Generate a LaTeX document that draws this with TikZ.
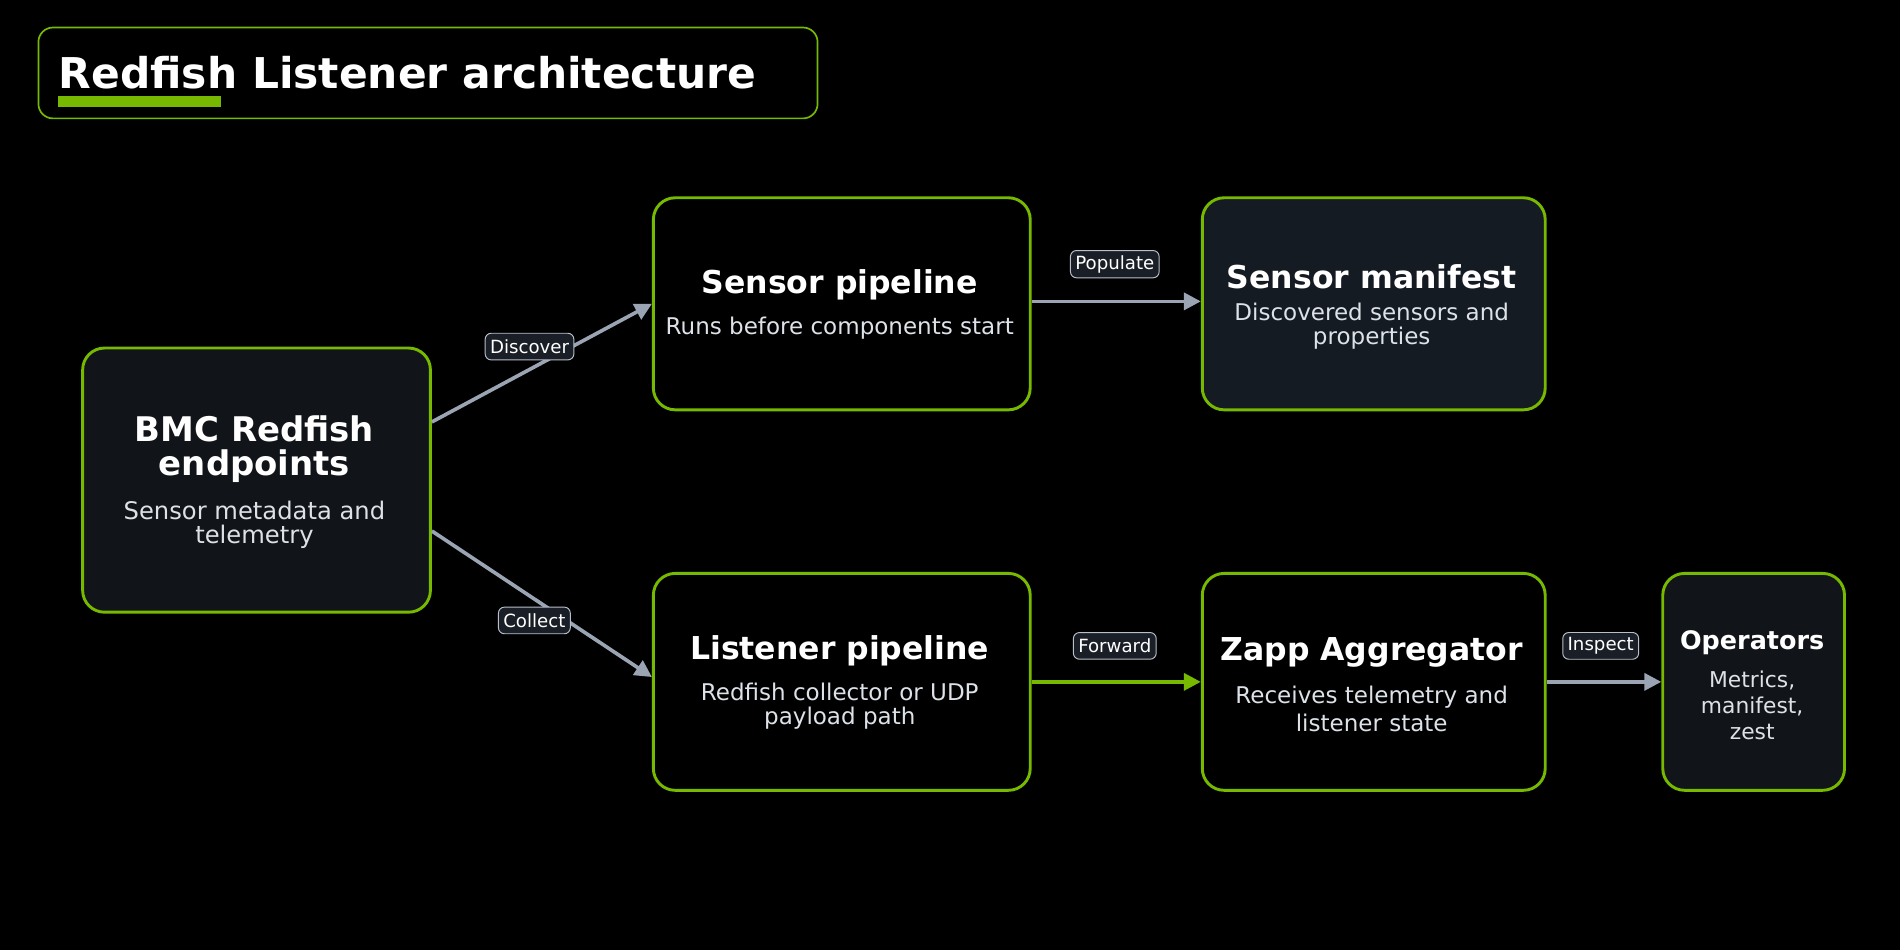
\documentclass[tikz,border=0pt]{standalone}
\usepackage{fontspec}
\setmainfont{DejaVu Sans}
\usetikzlibrary{arrows.meta}
\definecolor{grn}{HTML}{76B900}
\definecolor{dk}{HTML}{111418}
\definecolor{dk2}{HTML}{151B22}
\definecolor{edg}{HTML}{9AA4B2}
\definecolor{sub}{HTML}{DDE2E8}
\definecolor{lblf}{HTML}{1A1F27}
\tikzset{
 box/.style={draw=grn,line width=1.2pt,rounded corners=9pt,anchor=north west,inner sep=0pt},
 ttl/.style={text=white,font=\bfseries\fontsize{13}{14}\selectfont,align=center},
 st/.style={text=sub,font=\fontsize{9.5}{9.8}\selectfont,align=center},
 conn/.style={draw=edg,line width=1.5pt,-{Triangle[length=7pt,width=7pt]}},
 lbl/.style={fill=lblf,draw=edg!70,line width=0.4pt,rounded corners=2.5pt,text=white,font=\fontsize{7.5}{8}\selectfont,inner sep=2pt,minimum height=11pt},
}
\begin{document}
\begin{tikzpicture}[x=0.5pt,y=-0.5pt]
\fill[black] (0,0) rectangle (1568,784);
\useasboundingbox (0,0) rectangle (1568,784);
% title
\node[draw=grn,line width=0.7pt,rounded corners=6pt,anchor=north west,minimum width=321.5pt,minimum height=37.5pt] (tbox) at (31,22) {};
\node[anchor=base west,text=white,font=\bfseries\fontsize{17.5}{18}\selectfont,inner sep=0pt] (ttext) at (48,73) {Redfish Listener architecture};
\fill[grn] (48,79) rectangle (182,88);
% boxes
\node[box,fill=dk,minimum width=143.5pt,minimum height=109pt] (bmc) at (67,286) {};
\node[box,fill=black,minimum width=155.5pt,minimum height=87.5pt] (sp) at (538,162) {};
\node[box,fill=dk2,minimum width=141.5pt,minimum height=87.5pt] (sm) at (991,162) {};
\node[box,fill=black,minimum width=155.5pt,minimum height=89.5pt] (lp) at (538,472) {};
\node[box,fill=black,minimum width=141.5pt,minimum height=89.5pt] (za) at (991,472) {};
\node[box,fill=dk,minimum width=75pt,minimum height=89.5pt] (op) at (1371,472) {};
% texts
\node[ttl,font=\bfseries\fontsize{14}{14}\selectfont] (bmct) at (210,371) {BMC Redfish\\endpoints};
\node[st,font=\fontsize{10}{10}\selectfont] (bmcs) at (210,433) {Sensor metadata and\\telemetry};
\node[ttl] (spt) at (693,235) {Sensor pipeline};
\node[st] (sps) at (693,271) {Runs before components start};
\node[ttl] (smt) at (1132,228) {Sensor manifest};
\node[st] (sms) at (1132,269) {Discovered sensors and\\properties};
\node[ttl] (lpt) at (693,537) {Listener pipeline};
\node[st] (lps) at (693,583) {Redfish collector or UDP\\payload path};
\node[ttl] (zat) at (1132,538) {Zapp Aggregator};
\node[st,font=\fontsize{9.5}{11.5}\selectfont] (zas) at (1132,585) {Receives telemetry and\\listener state};
\node[ttl,font=\bfseries\fontsize{10.5}{11}\selectfont] (opt) at (1446,530) {Operators};
\node[st,font=\fontsize{9}{10.7}\selectfont] (ops) at (1446,582) {Metrics,\\manifest,\\zest};
% connectors
\draw[conn] ([yshift=24pt]bmc.east) -- (sp.west);
\draw[conn] ([yshift=-21pt]bmc.east) -- ([yshift=2pt]lp.west);
\draw[conn] ([yshift=1pt]sp.east) -- ([yshift=1pt]sm.west);
\draw[conn,draw=grn,-{Triangle[length=7pt,width=7pt,fill=grn]}] (lp.east) -- (za.west);
\draw[conn] (za.east) -- (op.west);
\node[lbl] (l1) at (437,286) {Discover};
\node[lbl] (l2) at (441,512) {Collect};
\node[lbl] (l3) at (920,218) {Populate};
\node[lbl] (l4) at (920,533) {Forward};
\node[lbl] (l5) at (1321,533) {Inspect};
\end{tikzpicture}
\end{document}
